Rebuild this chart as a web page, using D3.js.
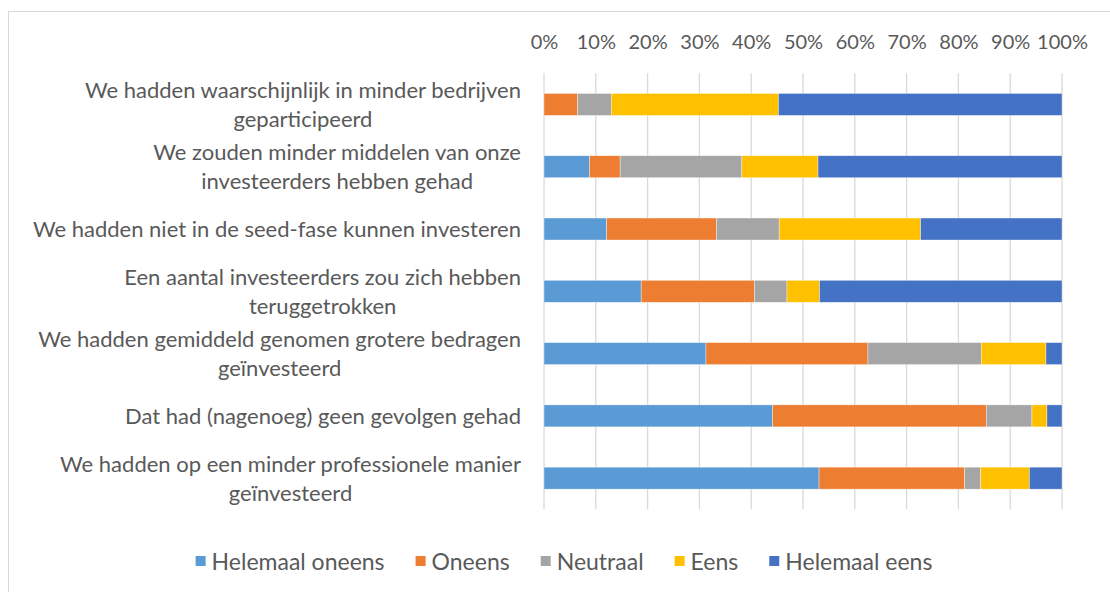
<!DOCTYPE html>
<html>
<head>
<meta charset="utf-8">
<script src="https://cdn.jsdelivr.net/npm/d3@7"></script>
<style>
  html, body { margin: 0; padding: 0; background: #fff; }
  svg { display: block; }
  text { font-family: "Lato", "Open Sans", sans-serif; fill: #595959; }
</style>
</head>
<body>
<svg id="chart" width="1110" height="592"></svg>
<script>
// Survey statements (top to bottom); "\n" marks a line break in the label
const categories = [
  "We hadden waarschijnlijk in minder bedrijven\ngeparticipeerd",
  "We zouden minder middelen van onze\ninvesteerders hebben gehad",
  "We hadden niet in de seed-fase kunnen investeren",
  "Een aantal investeerders zou zich hebben\nteruggetrokken",
  "We hadden gemiddeld genomen grotere bedragen\ngeïnvesteerd",
  "Dat had (nagenoeg) geen gevolgen gehad",
  "We hadden op een minder professionele manier\ngeïnvesteerd"
];

// Share of answers per statement, in percent
const helemaalOneens = [0.0, 8.8, 12.1, 18.8, 31.3, 44.1, 53.1];
const oneens         = [6.5, 5.9, 21.2, 21.9, 31.3, 41.2, 28.1];
const neutraal       = [6.5, 23.5, 12.1, 6.3, 21.9, 8.8, 3.1];
const eens           = [32.3, 14.7, 27.3, 6.3, 12.5, 2.9, 9.4];
const helemaalEens   = [54.8, 47.1, 27.3, 46.9, 3.1, 2.9, 6.3];

const seriesNames = ["Helemaal oneens", "Oneens", "Neutraal", "Eens", "Helemaal eens"];
const seriesValues = [helemaalOneens, oneens, neutraal, eens, helemaalEens];
const seriesColors = ["#5B9BD5", "#ED7D31", "#A5A5A5", "#FFC000", "#4472C4"];

const tickValues = [0, 0.1, 0.2, 0.3, 0.4, 0.5, 0.6, 0.7, 0.8, 0.9, 1.0];

const svg = d3.select("#chart");
const tickFontSize = 20;
const labelFontSize = 22;
const legendFontSize = 23;

// chart frame
svg.append("rect")
  .attr("x", 8.5).attr("y", 11.5)
  .attr("width", 1200).attr("height", 700)
  .attr("fill", "none").attr("stroke", "#d9d9d9").attr("stroke-width", 1);

const plot = { left: 544, right: 1062, top: 73.3, bottom: 509.3 };

const rows = categories.map((c, i) => {
  const r = { category: c };
  seriesNames.forEach((s, k) => { r[s] = seriesValues[k][i]; });
  return r;
});

const stack = d3.stack().keys(seriesNames).offset(d3.stackOffsetExpand);
const stacked = stack(rows);

const x = d3.scaleLinear().domain([0, 1]).range([plot.left, plot.right]);
const y = d3.scaleBand().domain(categories).range([plot.top, plot.bottom]).paddingInner(0.647).paddingOuter(0.3235);
const color = d3.scaleOrdinal().domain(seriesNames).range(seriesColors);

// vertical gridlines
svg.append("g")
  .selectAll("line")
  .data(tickValues)
  .join("line")
  .attr("x1", d => x(d)).attr("x2", d => x(d))
  .attr("y1", plot.top).attr("y2", plot.bottom)
  .attr("stroke", "#d9d9d9").attr("stroke-width", 1.3);

// top percentage axis
const xAxis = d3.axisTop(x).tickValues(tickValues).tickFormat(d3.format(".0%")).tickSize(0).tickPadding(0);
const axisG = svg.append("g").attr("transform", `translate(0, 49)`).call(xAxis);
axisG.select(".domain").remove();
axisG.selectAll("text")
  .attr("font-size", tickFontSize)
  .attr("font-family", null)
  .attr("fill", "#595959")
  .attr("dy", 0)
  .attr("y", 0);

// stacked bars
svg.append("g")
  .selectAll("g")
  .data(stacked)
  .join("g")
  .attr("fill", d => color(d.key))
  .selectAll("rect")
  .data(d => d)
  .join("rect")
  .attr("x", d => x(d[0]))
  .attr("y", d => y(d.data.category))
  .attr("width", d => Math.max(0, x(d[1]) - x(d[0])))
  .attr("height", y.bandwidth())
  .attr("stroke", "#ffffff").attr("stroke-opacity", 0.6).attr("stroke-width", 0.6);

// category labels: right aligned block, lines centred within the block
const labelRight = 521;
const lineHeight = 29;
const labelG = svg.append("g");
categories.forEach(c => {
  const lines = c.split("\n");
  const t = labelG.append("text")
    .attr("font-size", labelFontSize)
    .attr("text-anchor", "middle")
    .attr("dominant-baseline", "central");
  const cy = y(c) + y.bandwidth() / 2;
  lines.forEach((ln, i) => {
    t.append("tspan")
      .attr("y", cy - 1 + (i - (lines.length - 1) / 2) * lineHeight)
      .text(ln);
  });
  let w = 0;
  t.selectAll("tspan").each(function() { w = Math.max(w, this.getComputedTextLength()); });
  t.selectAll("tspan").attr("x", labelRight - w / 2);
});

// legend
const legendG = svg.append("g");
const legendY = 561;
const sw = 10, swGap = 6, itemGap = 31;
let lx = 0;
seriesNames.forEach(name => {
  const g = legendG.append("g");
  g.append("rect").attr("x", lx).attr("y", legendY - sw / 2).attr("width", sw).attr("height", sw).attr("fill", color(name));
  const t = g.append("text").attr("x", lx + sw + swGap).attr("y", legendY)
    .attr("font-size", legendFontSize).attr("dominant-baseline", "central").text(name);
  lx += sw + swGap + t.node().getComputedTextLength() + itemGap;
});
const legendWidth = lx - itemGap;
legendG.attr("transform", `translate(${564 - legendWidth / 2}, 0)`);
</script>
</body>
</html>
